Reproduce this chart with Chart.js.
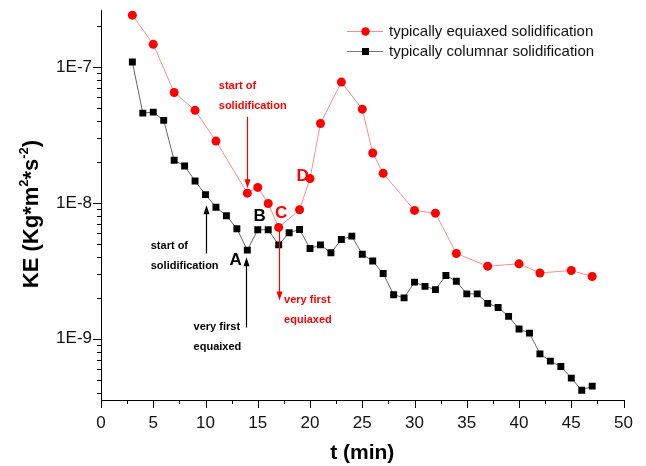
<!DOCTYPE html>
<html>
<head>
<meta charset="utf-8">
<script src="https://cdn.jsdelivr.net/npm/chart.js@4.4.0/dist/chart.umd.min.js"></script>
<style>
    html, body { margin: 0; padding: 0; background: #fff; }
    #wrap { width: 646px; height: 466px; position: relative; }
</style>
</head>
<body>
<div id="wrap"><canvas id="grafico"></canvas></div>
<script>
// values: t in minutes, KE in Kg*m^2*s^-2
const tEquiaxed = [3, 5, 7, 9, 11, 14, 15, 16, 17, 19, 20, 21, 23, 25, 26, 27, 30, 32, 34, 37, 40, 42, 45, 47];
const keEquiaxed = [2.41e-7, 1.47e-7, 6.5e-8, 4.8e-8, 2.85e-8, 1.18e-8, 1.30e-8, 9.9e-9, 6.6e-9, 8.9e-9, 1.51e-8, 3.84e-8,
    7.75e-8, 4.9e-8, 2.33e-8, 1.65e-8, 8.8e-9, 8.4e-9, 4.24e-9, 3.42e-9, 3.56e-9, 3.05e-9, 3.18e-9, 2.87e-9];

const tColumnar = [3, 4, 5, 6, 7, 8, 9, 10, 11, 12, 13, 14, 15, 16, 17, 18, 19, 20, 21, 22, 23, 24, 25,
    26, 27, 28, 29, 30, 31, 32, 33, 34, 35, 36, 37, 38, 39, 40, 41, 42, 43, 44, 45, 46, 47];
const keColumnar = [1.09e-7, 4.58e-8, 4.66e-8, 4.05e-8, 2.06e-8, 1.87e-8, 1.45e-8, 1.15e-8, 9.3e-9, 8.05e-9, 6.46e-9,
    4.49e-9, 6.34e-9, 6.34e-9, 4.91e-9, 6.03e-9, 6.37e-9, 4.61e-9, 4.91e-9, 4.29e-9, 5.38e-9, 5.69e-9, 4.19e-9,
    3.73e-9, 3.02e-9, 2.11e-9, 2.0e-9, 2.61e-9, 2.43e-9, 2.30e-9, 2.92e-9, 2.65e-9, 2.14e-9, 2.14e-9, 1.82e-9,
    1.70e-9, 1.46e-9, 1.18e-9, 1.10e-9, 7.74e-10, 6.84e-10, 6.25e-10, 5.13e-10, 4.18e-10, 4.48e-10];

const seriesNames = ['typically equiaxed solidification', 'typically columnar solidification'];

// axis ticks
const xMajorTicks = [0, 5, 10, 15, 20, 25, 30, 35, 40, 45, 50];
const xMinorTicks = [2.5, 7.5, 12.5, 17.5, 22.5, 27.5, 32.5, 37.5, 42.5, 47.5];
const yMajorTicks = [1e-9, 1e-8, 1e-7];
const yTickLabels = ['1E-9', '1E-8', '1E-7'];
const yMinorTicks = [4e-10, 5e-10, 6e-10, 7e-10, 8e-10, 9e-10, 2e-9, 3e-9, 4e-9, 5e-9, 6e-9, 7e-9, 8e-9, 9e-9,
    2e-8, 3e-8, 4e-8, 5e-8, 6e-8, 7e-8, 8e-8, 9e-8, 2e-7];

// annotations (placed in data coordinates)
const RED = '#ff0000';
const notes = [
    { text: 'start of', t: 11.27, ke: 7.27e-8, color: RED, size: 11 },
    { text: 'solidification', t: 11.27, ke: 5.18e-8, color: RED, size: 11 },
    { text: 'start of', t: 4.76, ke: 4.85e-9, color: '#000', size: 11 },
    { text: 'solidification', t: 4.76, ke: 3.46e-9, color: '#000', size: 11 },
    { text: 'very first', t: 8.86, ke: 1.23e-9, color: '#000', size: 11 },
    { text: 'equaixed', t: 8.86, ke: 8.77e-10, color: '#000', size: 11 },
    { text: 'very first', t: 17.52, ke: 1.94e-9, color: RED, size: 11 },
    { text: 'equiaxed', t: 17.52, ke: 1.38e-9, color: RED, size: 11 },
    { text: 'A', t: 12.3, ke: 3.77e-9, color: '#000', size: 17 },
    { text: 'B', t: 14.6, ke: 7.95e-9, color: '#000', size: 17 },
    { text: 'C', t: 16.65, ke: 8.32e-9, color: RED, size: 17 },
    { text: 'D', t: 18.7, ke: 1.58e-8, color: RED, size: 17 }
];
const arrows = [
    { t: 14, from: 4.3e-8, to: 1.28e-8, color: RED },
    { t: 17, from: 6.59e-9, to: 1.91e-9, color: RED },
    { t: 10, from: 4.24e-9, to: 9.59e-9, color: '#000' },
    { t: 13.9, from: 1.21e-9, to: 3.98e-9, color: '#000' }
];

const FONT = '"Liberation Sans", Arial, sans-serif';

function isDecade(v) {
    const l = Math.log10(v);
    return Math.abs(l - Math.round(l)) < 1e-6;
}

const decor = {
    id: 'decor',
    afterDraw(chart) {
        const ctx = chart.ctx;
        const xs = chart.scales.x, ys = chart.scales.y, a = chart.chartArea;
        ctx.save();

        // tick marks, pointing out of the plot
        ctx.strokeStyle = '#000';
        ctx.lineWidth = 1;
        ctx.beginPath();
        xs.ticks.forEach(tk => {
            const px = Math.round(xs.getPixelForValue(tk.value)) + 0.5;
            const len = tk.major ? 8 : 4;
            ctx.moveTo(px, a.bottom);
            ctx.lineTo(px, a.bottom + len);
        });
        ys.ticks.forEach(tk => {
            const py = Math.round(ys.getPixelForValue(tk.value)) + 0.5;
            const len = tk.major ? 8 : 4;
            ctx.moveTo(a.left, py);
            ctx.lineTo(a.left - len, py);
        });
        ctx.stroke();

        // annotation texts
        ctx.textBaseline = 'middle';
        ctx.textAlign = 'left';
        notes.forEach(n => {
            ctx.font = 'bold ' + n.size + 'px ' + FONT;
            ctx.fillStyle = n.color;
            ctx.fillText(n.text, xs.getPixelForValue(n.t), ys.getPixelForValue(n.ke));
        });

        // arrows
        arrows.forEach(ar => {
            const x = Math.round(xs.getPixelForValue(ar.t)) + 0.5;
            const y0 = ys.getPixelForValue(ar.from);
            const y1 = ys.getPixelForValue(ar.to);
            const dir = y1 > y0 ? 1 : -1;
            ctx.strokeStyle = ar.color;
            ctx.fillStyle = ar.color;
            ctx.lineWidth = 1.2;
            ctx.beginPath();
            ctx.moveTo(x, y0);
            ctx.lineTo(x, y1 - dir * 6);
            ctx.stroke();
            ctx.beginPath();
            ctx.moveTo(x, y1);
            ctx.lineTo(x - 3, y1 - dir * 9);
            ctx.lineTo(x + 3, y1 - dir * 9);
            ctx.closePath();
            ctx.fill();
        });

        // legend
        const leg = [
            { name: seriesNames[0], line: '#ff8c8c', mark: RED, style: 'circle', y: 31 },
            { name: seriesNames[1], line: '#777', mark: '#000', style: 'rect', y: 51 }
        ];
        ctx.font = '15px ' + FONT;
        leg.forEach(l => {
            ctx.strokeStyle = l.line;
            ctx.lineWidth = 1.2;
            ctx.beginPath();
            ctx.moveTo(347, l.y + 0.5);
            ctx.lineTo(383, l.y + 0.5);
            ctx.stroke();
            ctx.fillStyle = l.mark;
            if (l.style === 'circle') {
                ctx.beginPath();
                ctx.arc(365.5, l.y + 0.5, 4.2, 0, Math.PI * 2);
                ctx.fill();
            } else {
                ctx.fillRect(362, l.y - 3, 7, 7);
            }
            ctx.fillStyle = '#111';
            ctx.textBaseline = 'middle';
            ctx.fillText(l.name, 389, l.y + 1);
        });

        // x axis title
        ctx.fillStyle = '#000';
        ctx.textAlign = 'center';
        ctx.textBaseline = 'alphabetic';
        ctx.font = 'bold 21px ' + FONT;
        ctx.fillText('t (min)', (a.left + a.right) / 2, 459);

        // y axis title with superscripts
        const parts = [
            { s: 'KE (Kg*m', sup: false },
            { s: '2', sup: true },
            { s: '*s', sup: false },
            { s: '-2', sup: true },
            { s: ')', sup: false }
        ];
        const big = 'bold 22px ' + FONT, small = 'bold 13px ' + FONT;
        let total = 0;
        parts.forEach(p => { ctx.font = p.sup ? small : big; p.w = ctx.measureText(p.s).width; total += p.w; });
        ctx.translate(38, 214);
        ctx.rotate(-Math.PI / 2);
        ctx.textAlign = 'left';
        let cx = -total / 2;
        parts.forEach(p => {
            ctx.font = p.sup ? small : big;
            ctx.fillText(p.s, cx, p.sup ? -10 : 0);
            cx += p.w;
        });

        ctx.restore();
    }
};

const ctx = document.getElementById('grafico').getContext('2d');
new Chart(ctx, {
    type: 'line',
    data: {
        datasets: [{
            label: seriesNames[0],
            data: tEquiaxed.map((t, i) => ({ x: t, y: keEquiaxed[i] })),
            borderColor: '#ff8c8c',
            borderWidth: 1,
            pointStyle: 'circle',
            pointRadius: 4.5,
            pointBackgroundColor: RED,
            pointBorderWidth: 0,
            tension: 0
        }, {
            label: seriesNames[1],
            data: tColumnar.map((t, i) => ({ x: t, y: keColumnar[i] })),
            borderColor: '#666',
            borderWidth: 1,
            pointStyle: 'rect',
            pointRadius: 4.9,
            pointBackgroundColor: '#000',
            pointBorderWidth: 0,
            tension: 0
        }]
    },
    options: {
        responsive: true,
        maintainAspectRatio: false,
        animation: false,
        layout: { padding: { left: 0, right: 20, top: 10, bottom: 0 } },
        plugins: {
            legend: { display: false },
            tooltip: { enabled: false }
        },
        scales: {
            x: {
                type: 'linear',
                min: 0,
                max: 50,
                afterBuildTicks: scale => {
                    scale.ticks = xMajorTicks.map(v => ({ value: v, major: true }))
                        .concat(xMinorTicks.map(v => ({ value: v, major: false })))
                        .sort((p, q) => p.value - q.value);
                },
                afterFit: scale => { scale.height = 66; },
                ticks: {
                    autoSkip: false,
                    maxRotation: 0,
                    padding: 13,
                    color: '#111',
                    font: { family: FONT, size: 17 },
                    callback: (v, i, ticks) => ticks[i].major ? String(v) : ''
                },
                grid: { display: false, drawTicks: false },
                border: { display: true, color: '#000', width: 1 }
            },
            y: {
                type: 'logarithmic',
                min: 3.54e-10,
                max: 2.63e-7,
                afterBuildTicks: scale => {
                    scale.ticks = yMajorTicks.map(v => ({ value: v, major: true }))
                        .concat(yMinorTicks.map(v => ({ value: v, major: false })))
                        .sort((p, q) => p.value - q.value);
                },
                afterFit: scale => { scale.width = 101; },
                ticks: {
                    autoSkip: false,
                    padding: 9,
                    color: '#111',
                    // unlabelled minor ticks take no vertical room
                    font: c => ({ family: FONT, size: 17, lineHeight: c.tick && c.tick.major ? 1.2 : 0.01 }),
                    callback: (v, i, ticks) => {
                        if (!isDecade(v)) return '';
                        const k = yMajorTicks.findIndex(m => Math.abs(m - v) / m < 1e-6);
                        return k >= 0 ? yTickLabels[k] : '';
                    }
                },
                grid: { display: false, drawTicks: false },
                border: { display: true, color: '#000', width: 1 }
            }
        }
    },
    plugins: [decor]
});
</script>
</body>
</html>
